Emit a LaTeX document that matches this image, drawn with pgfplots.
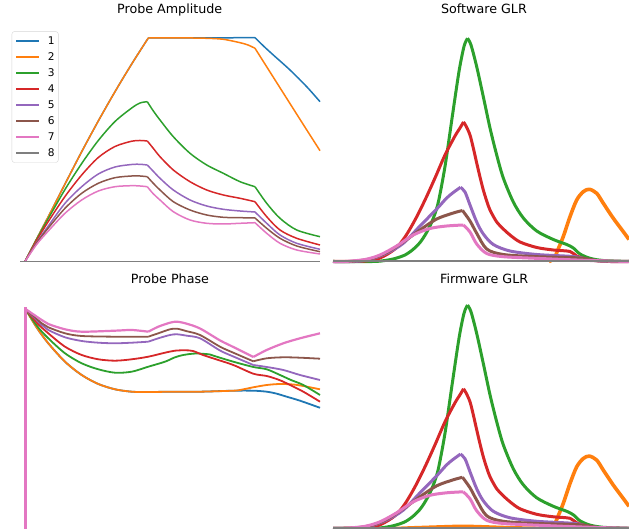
\documentclass[border=0pt]{standalone}
\usepackage{pgfplots}
\pgfplotsset{compat=1.18}
\usepackage{pgfplotstable}
\usepackage{fontspec}
\setmainfont{DejaVu Sans}
\definecolor{mA}{HTML}{1F77B4}
\definecolor{mB}{HTML}{FF7F0E}
\definecolor{mC}{HTML}{2CA02C}
\definecolor{mD}{HTML}{D62728}
\definecolor{mE}{HTML}{9467BD}
\definecolor{mF}{HTML}{8C564B}
\definecolor{mG}{HTML}{E377C2}
\definecolor{mH}{HTML}{7F7F7F}
\definecolor{legframe}{HTML}{D6D6D6}
\newcommand\titlefont{\fontsize{12.7}{15}\selectfont}
\pgfplotsset{
  panel/.style={scale only axis, hide axis, clip=false, anchor=south west,
    xmin=0, ymin=0,
    title style={font=\titlefont, anchor=base, inner sep=0pt},
    every axis plot/.append style={line join=round}},
}
% ---------- GLR data (shared by both GLR panels) ----------
\pgfplotstableread{
x y
0 0
296 0
}\glrzero
\pgfplotstableread{
x y
0 0
218 0
}\swoflat
\pgfplotstableread{
x y
0 0
50 0
80 1
110 2
130 2.5
150 2
180 1
216 0.3
}\fwoflat
\pgfplotstableread{
x y
216 0
221 3
225 12
230.3 25
237 44.8
243.7 61.5
250.3 69.8
256.3 72.2
263.7 68.2
270.3 58.2
280.3 43.2
290.3 29.8
296 22
}\ohump
\pgfplotstableread{
x y
0 0
40 0
52 1
62 3
72 6.5
80 12
87 19
93 28
99 40
105 58
112 95
119 143
126 190
131 215
134.5 223.2
}\greena
\pgfplotstableread{
x y
134.5 223.2
138 216.5
143.7 194.8
150.3 164.8
157 133.5
163.7 106.5
170.3 83.5
180.3 59.5
190.3 43.5
203.7 30.5
220.3 22
233.7 17
240.3 13.5
247 7.5
257 3.2
270.3 1
296 0
}\greenb
\pgfplotstableread{
x y
0 0
32 0.5
47 3.5
62 12.5
72 24.5
82 41.5
92 61.5
102 83.5
112 106.5
122 125.5
127 133.5
130.5 139.5
}\reda
\pgfplotstableread{
x y
130.5 139.5
133 135.5
137 126.5
140.3 113.5
143.7 98.5
147 84.5
150.3 71.5
153.7 60.5
157 51.5
163.7 39.5
170.3 32.5
177 26.5
187 19.5
203.7 14
220.3 11.5
237 10
243.7 5.5
257 1.5
277 0
296 0
}\redb
\pgfplotstableread{
x y
0 0
22 0
37 2.2
53.7 8.2
70.3 18.2
87 35.5
103.7 52.5
113.7 63.5
120.3 69
127.5 74.2
}\purplea
\pgfplotstableread{
x y
127.5 74.2
132 69.5
137 56.5
143.7 39.5
150.3 27.5
160.3 17
177 10.5
203.7 7
237 5.2
247 4
257 1.5
277 0
296 0
}\purpleb
\pgfplotstableread{
x y
0 0
17 0
37 2.5
53.7 9
70.3 19.5
87 31.5
103.7 42.5
120.3 48.5
129.5 51
}\browna
\pgfplotstableread{
x y
129.5 51
137 40.5
143.7 28.2
153.7 12.5
170.3 7
203.7 4.8
247 3.5
267 0.5
296 0
}\brownb
\pgfplotstableread{
x y
0 0
12 0
32 2
47 6.5
63.7 15.5
80.3 26.5
97 33
113.7 35.5
130.3 36.5
}\pinka
\pgfplotstableread{
x y
130.3 36.5
137 29.5
143.7 17.5
153.7 8
170.3 4.8
207 3
257 1
296 0
}\pinkb
\begin{document}
\begin{tikzpicture}[x=1pt,y=1pt]
\useasboundingbox (0,0) rectangle (629,529);
% ================= Probe Amplitude =================
\begin{axis}[panel, at={(22pt,267.5pt)}, width=298pt, height=224.5pt,
  xmax=298, ymax=224.5,
  title={Probe Amplitude},
  title style={at={(axis description cs:0.4956,1.0757)}},
  legend image code/.code={\draw[line width=1.5pt,#1] (0pt,0pt) -- (22.7pt,0pt);},
  legend cell align=left,
  legend style={at={(-0.0346,1.02512)}, anchor=north west,
    draw=legframe, rounded corners=2.5pt, fill=white,
    font=\fontsize{10.6}{12.7}\selectfont,
    inner xsep=3.6pt, inner ysep=5.6pt, row sep=8.3pt, column sep=8.3pt,
    nodes={inner sep=0pt, text height=7.7pt, text depth=0pt}},
]
% 1
\addplot[color=mA, draw=mA, line width=1.5pt, smooth] coordinates {(3,0) (14.6,22.5) (26.3,44.8) (43,77.5) (59.7,109.8) (76.3,140.5) (93,169.8) (109.7,197.5) (126.3,223.5)};
\addplot[color=mA, line width=1.5pt, forget plot] coordinates {(126.3,223.5) (233,223.8)};
\addplot[color=mA, line width=1.5pt, smooth, forget plot] coordinates {(233,223.8) (242,215) (251.3,206.5) (268,191.5) (284.7,174.8) (298,159.8)};
% 2
\addplot[color=mB, draw=mB, line width=1.5pt, smooth] coordinates {(3,0) (14.6,22.5) (26.3,44.8) (43,77.5) (59.7,109.8) (76.3,140.5) (93,169.8) (109.7,197.5) (126.3,223.5)};
\addplot[color=mB, line width=1.5pt, smooth, forget plot] coordinates {(126.3,223.5) (160,223.6) (184.7,223.2) (201.3,222.2) (218,218.8) (226,216.5) (233,213.2)};
\addplot[color=mB, line width=1.5pt, smooth, forget plot] coordinates {(233,213.2) (244.7,194.7) (258,173.7) (271.3,152.7) (284.7,131.6) (298,110.8)};
% 3
\addplot[color=mC, draw=mC, line width=1.5pt, smooth] coordinates {(3,0) (14.6,22) (26.3,43) (43,72) (59.7,98) (76.3,121) (93,140) (109.7,153.5) (118,158.5) (125.3,159.8)};
\addplot[color=mC, line width=1.5pt, smooth, forget plot] coordinates {(125.3,159.8) (131,151) (138,141.5) (151.3,124.8) (168,108.2) (184.7,96.5) (201.3,88.2) (218,79.8) (233,74.8)};
\addplot[color=mC, line width=1.5pt, smooth, forget plot] coordinates {(233,74.8) (244.7,58.2) (258,43.2) (274.7,31.5) (298,24.8)};
% 4
\addplot[color=mD, draw=mD, line width=1.5pt, smooth] coordinates {(3,0) (14.6,21) (26.3,40) (43,65) (59.7,86.5) (76.3,104) (93,115) (109.7,120.3) (118,121) (125.3,120.5)};
\addplot[color=mD, line width=1.5pt, smooth, forget plot] coordinates {(125.3,120.5) (131,113.5) (138,104.8) (151.3,91.5) (168,79.8) (184.7,71.5) (201.3,66.5) (218,63.2) (233,59.8)};
\addplot[color=mD, line width=1.5pt, smooth, forget plot] coordinates {(233,59.8) (244.7,44.8) (258,31.5) (274.7,23.2) (298,16.5)};
% 5
\addplot[color=mE, draw=mE, line width=1.5pt, smooth] coordinates {(3,0) (14.6,19) (26.3,35.5) (43,58.2) (59.7,74.8) (76.3,87.5) (93,94.5) (109.7,97) (118,97.2) (125.3,96.5)};
\addplot[color=mE, line width=1.5pt, smooth, forget plot] coordinates {(125.3,96.5) (131,90.5) (138,83.2) (151.3,71.5) (168,61.5) (184.7,55.5) (201.3,52.2) (218,50.5) (233,49.5)};
\addplot[color=mE, line width=1.5pt, smooth, forget plot] coordinates {(233,49.5) (244.7,38.2) (258,26.5) (274.7,18.2) (298,12.2)};
% 6
\addplot[color=mF, draw=mF, line width=1.5pt, smooth] coordinates {(3,0) (14.6,18.5) (26.3,33.5) (43,53.2) (59.7,68.2) (76.3,78.2) (93,83.8) (109.7,85.5) (118,85.5) (125.3,84.8)};
\addplot[color=mF, line width=1.5pt, smooth, forget plot] coordinates {(125.3,84.8) (131,78.5) (138,71.5) (151.3,59.8) (168,51.5) (184.7,46.5) (201.3,44.2) (218,43.8) (233,43.5)};
\addplot[color=mF, line width=1.5pt, smooth, forget plot] coordinates {(233,43.5) (244.7,33.2) (258,23.2) (274.7,15.5) (298,9.8)};
% 7
\addplot[color=mG, draw=mG, line width=1.5pt, smooth] coordinates {(3,0) (14.6,17) (26.3,30.5) (43,48.2) (59.7,61.5) (76.3,70.5) (93,74.8) (109.7,75.8) (118,75.5) (125.3,74.8)};
\addplot[color=mG, line width=1.5pt, smooth, forget plot] coordinates {(125.3,74.8) (131,68) (138,61.5) (151.3,49.8) (168,41.5) (184.7,38.2) (201.3,37.5) (218,38.2) (233,38.8)};
\addplot[color=mG, line width=1.5pt, smooth, forget plot] coordinates {(233,38.8) (244.7,28.2) (258,18.2) (274.7,11.5) (298,7.5)};
% 8
\addplot[color=mH, draw=mH, line width=1.5pt] coordinates {(-2,0) (298,0)};
\legend{1,2,3,4,5,6,7,8}
\end{axis}
% ================= Software GLR =================
\begin{axis}[panel, at={(333pt,267.5pt)}, width=296pt, height=224.5pt,
  xmax=296, ymax=224.5,
  title={Software GLR},
  title style={at={(axis description cs:0.510,1.0757)}},
]
\addplot[color=mA, line width=1.5pt] table {\glrzero};
\addplot[color=mB, line width=1.4pt] table {\swoflat};
\addplot[color=mB, line width=3.6pt, smooth] table {\ohump};
\addplot[color=mC, line width=3pt, smooth] table {\greena};
\addplot[color=mC, line width=3pt, smooth] table {\greenb};
\addplot[color=mD, line width=3pt, smooth] table {\reda};
\addplot[color=mD, line width=3pt, smooth] table {\redb};
\addplot[color=mE, line width=3pt, smooth] table {\purplea};
\addplot[color=mE, line width=3pt, smooth] table {\purpleb};
\addplot[color=mF, line width=3pt, smooth] table {\browna};
\addplot[color=mF, line width=3pt, smooth] table {\brownb};
\addplot[color=mG, line width=3pt, smooth] table {\pinka};
\addplot[color=mG, line width=3pt, smooth] table {\pinkb};
\addplot[color=mH, line width=2pt] table {\glrzero};
\end{axis}
% ================= Probe Phase =================
\begin{axis}[panel, at={(22pt,0pt)}, width=298pt, height=224pt,
  xmax=298, ymax=224,
  title={Probe Phase},
  title style={at={(axis description cs:0.4966,1.070)}},
]
% 1
\addplot[color=mA, line width=1.8pt] coordinates {(3.5,-10) (3.5,221)};
\addplot[color=mA, line width=1.8pt, smooth] coordinates {(3.5,220) (15,201) (26.3,185.7) (43,167.3) (59.7,154) (76.3,145) (93,139.7) (109.7,137.3) (126.3,137) (153,137.3) (178,137.3) (211.3,138.3) (231.3,138.3) (244.7,137.3) (254,135.5) (264.7,132.3) (278,128.3) (298,121.2)};
% 2
\addplot[color=mB, line width=1.8pt] coordinates {(3.5,-10) (3.5,221)};
\addplot[color=mB, line width=1.8pt, smooth] coordinates {(3.5,220) (15,201) (26.3,185.7) (43,167.3) (59.7,154) (76.3,145) (93,139.7) (109.7,137.3) (126.3,137) (153,137.3) (178,137.3) (211.3,138.3) (218,139) (231.3,141.7) (244.7,144) (258,145) (271.3,144.5) (281.3,143) (298,139.7)};
% 3
\addplot[color=mC, line width=1.8pt] coordinates {(3.5,-10) (3.5,221)};
\addplot[color=mC, line width=1.8pt, smooth] coordinates {(3.5,220) (15,203) (26.3,190.7) (43,175.7) (59.7,165.7) (76.3,159.7) (93,156.3) (109.7,157.3) (126.3,162.3) (143,167.3) (153,171.7) (161.3,174) (174,175.5) (188,174.5) (194.7,172.3) (211.3,167.3) (231.3,162) (244.7,159.7) (258,154) (269,149) (281.3,144) (298,134)};
% 4
\addplot[color=mD, line width=1.8pt] coordinates {(3.5,-10) (3.5,221)};
\addplot[color=mD, line width=1.8pt, smooth] coordinates {(3.5,220) (15,206) (26.3,195.7) (43,182.3) (59.7,174) (76.3,169.7) (93,168.3) (109.7,169.7) (126.3,172.3) (143,176.3) (153,178.3) (163,178.7) (171,178) (181,174) (194.7,169.5) (211.3,164) (231.3,155.3) (244.7,153) (256,149.5) (264,146) (281.3,137.3) (298,127.3)};
% 5
\addplot[color=mE, line width=1.8pt] coordinates {(3.5,-10) (3.5,221)};
\addplot[color=mE, line width=1.8pt, smooth] coordinates {(3.5,220) (19.7,204) (26.3,199) (43,191.7) (59.7,188) (76.3,186.3) (93,185.7) (109.7,186.3) (126.3,187.3)};
\addplot[color=mE, line width=1.8pt, smooth] coordinates {(126.3,187.3) (136.3,190.7) (148,194) (155,194.7) (164.7,193.3) (178,190.7) (198,178.5) (211.3,172.5) (231.3,164)};
\addplot[color=mE, line width=1.8pt, smooth] coordinates {(231.3,164) (244.7,162) (261.3,159) (278,154) (298,149)};
% 6
\addplot[color=mF, line width=1.8pt] coordinates {(3.5,-10) (3.5,221)};
\addplot[color=mF, line width=1.8pt, smooth] coordinates {(3.5,220) (19.7,205.7) (26.3,201.7) (43,195.7) (59.7,193) (93,192.3) (126.3,192.3)};
\addplot[color=mF, line width=1.8pt, smooth] coordinates {(126.3,192.3) (136.3,195.7) (148,199.7) (155,200.3) (164.7,197.8) (178,194) (198,182.3) (211.3,176.3) (231.3,167.7)};
\addplot[color=mF, line width=1.8pt, smooth] coordinates {(231.3,167.7) (244.7,170.7) (261.3,171.7) (278,171.3) (298,170.3)};
% 7
\addplot[color=mG, line width=2.2pt] coordinates {(3.5,-10) (3.5,222)};
\addplot[color=mG, line width=2.2pt, smooth] coordinates {(3.5,220) (19.7,209) (26.3,205) (43,199.7) (59.7,197.3) (93,198.3) (109.7,199) (126.3,197.3)};
\addplot[color=mG, line width=2.2pt, smooth] coordinates {(126.3,197.3) (136.3,202.3) (148,206.3) (155,207.3) (164.7,205.3) (178,200.5) (198,188.6) (211.3,182) (231.3,172)};
\addplot[color=mG, line width=2.2pt, smooth] coordinates {(231.3,172) (244.7,179) (261.3,185.7) (278,190.7) (298,195.7)};
\end{axis}
% ================= Firmware GLR =================
\begin{axis}[panel, at={(333pt,0.7pt)}, width=296pt, height=224.5pt,
  xmax=296, ymax=224.5,
  title={Firmware GLR},
  title style={at={(axis description cs:0.5108,1.0646)}},
]
\addplot[color=mA, line width=1.5pt] table {\glrzero};
\addplot[color=mB, line width=2.5pt, smooth] table {\fwoflat};
\addplot[color=mB, line width=3.6pt, smooth] table {\ohump};
\addplot[color=mC, line width=3pt, smooth] table {\greena};
\addplot[color=mC, line width=3pt, smooth] table {\greenb};
\addplot[color=mD, line width=3pt, smooth] table {\reda};
\addplot[color=mD, line width=3pt, smooth] table {\redb};
\addplot[color=mE, line width=3pt, smooth] table {\purplea};
\addplot[color=mE, line width=3pt, smooth] table {\purpleb};
\addplot[color=mF, line width=3pt, smooth] table {\browna};
\addplot[color=mF, line width=3pt, smooth] table {\brownb};
\addplot[color=mG, line width=3pt, smooth] table {\pinka};
\addplot[color=mG, line width=3pt, smooth] table {\pinkb};
\addplot[color=mH, line width=1.8pt] table {\glrzero};
\end{axis}
\end{tikzpicture}
\end{document}
